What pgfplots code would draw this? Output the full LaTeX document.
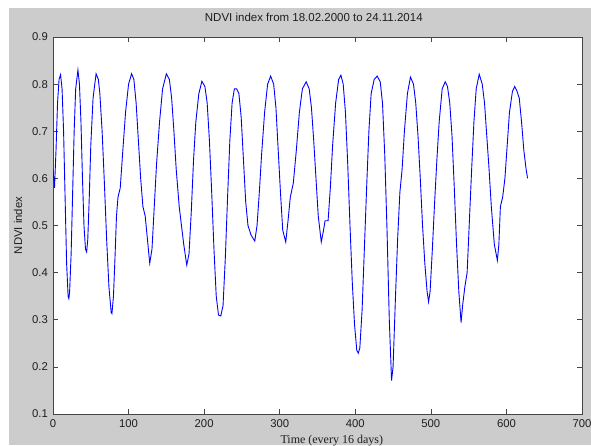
\documentclass[border=0pt]{standalone}
\usepackage{fontspec}
\setmainfont{Liberation Sans}
\newfontfamily\seriffont{Liberation Serif}
\usepackage{pgfplots}
\pgfplotsset{compat=1.18}
\definecolor{figgray}{RGB}{204,204,204}
\definecolor{axgray}{RGB}{70,70,70}
\definecolor{txtgray}{RGB}{30,30,30}
\definecolor{mblue}{RGB}{0,0,255}
\begin{document}
\begin{tikzpicture}
\clip (0,0) rectangle (591pt,445pt);
\fill[white] (0,0) rectangle (591pt,445pt);
\fill[figgray] (9pt,0) rectangle (591pt,437pt);
\begin{axis}[
  at={(53pt,31pt)}, anchor=south west,
  scale only axis, width=529pt, height=377pt,
  xmin=0, xmax=700, ymin=0.1, ymax=0.9,
  xtick={0,100,...,700},
  ytick={0.1,0.2,0.3,0.4,0.5,0.6,0.7,0.8,0.9},
  tick align=inside, major tick length=5pt,
  xtick pos=both, ytick pos=both,
  axis line style={axgray, line width=0.9pt},
  tick style={axgray, line width=0.7pt},
  axis background/.style={fill=white},
  /pgf/number format/assume math mode=true,
  tick label style={font=\fontsize{11.3}{13}\selectfont, text=txtgray},
  yticklabel style={/pgf/number format/fixed, /pgf/number format/precision=1, /pgf/number format/fixed zerofill, inner sep=0pt, anchor=east, xshift=-5pt},
  xticklabel style={inner sep=0pt, anchor=north, yshift=-5pt},
  title={NDVI index from 18.02.2000 to 24.11.2014},
  title style={at={(0.493,1)}, anchor=base, yshift=10pt, font=\fontsize{11.5}{13}\selectfont, text=txtgray, inner sep=0pt},
  xlabel={Time (every 16 days)},
  xlabel style={at={(0.527,0)}, anchor=base, yshift=-29pt, font=\seriffont\fontsize{12}{14}\selectfont, text=txtgray, inner sep=0pt},
  ylabel={NDVI index},
  ylabel style={at={(0,0.5)}, anchor=center, yshift=35pt, font=\fontsize{11.3}{13}\selectfont, text=txtgray, inner sep=0pt},
]
\addplot[mblue, line width=0.9pt] coordinates {
(0,0.62) (2,0.58) (4,0.66) (6,0.76) (8,0.81) (10,0.82) (12,0.79) (14,0.70) (16,0.56) (18,0.42) (20,0.35) (21,0.345) (22,0.36) (24,0.44) (26,0.57) (28,0.70) (30,0.79) (33,0.83) (35,0.80) (37,0.72) (39,0.60) (41,0.50) (43,0.45) (44.5,0.444) (46,0.47) (48,0.56) (50,0.67) (53,0.77) (57,0.822) (60,0.81) (62,0.78) (65,0.70) (68,0.59) (71,0.47) (74,0.37) (77,0.315) (78,0.313) (80,0.35) (82,0.43) (84,0.52) (86,0.56) (89,0.58) (92,0.65) (96,0.74) (100,0.80) (104,0.822) (107,0.81) (110,0.76) (113,0.68) (116,0.60) (119,0.54) (122,0.52) (125,0.47) (128,0.42) (131,0.45) (134,0.54) (137,0.63) (141,0.72) (145,0.79) (150,0.822) (154,0.81) (157,0.77) (160,0.70) (163,0.62) (167,0.54) (170,0.50) (173,0.46) (177,0.416) (180,0.44) (183,0.53) (186,0.64) (189,0.72) (193,0.78) (197,0.806) (201,0.795) (204,0.76) (207,0.68) (210,0.57) (213,0.45) (216,0.35) (219,0.31) (222,0.308) (225,0.33) (228,0.43) (231,0.56) (234,0.68) (237,0.76) (240,0.79) (243,0.79) (246,0.78) (249,0.73) (252,0.64) (255,0.55) (258,0.50) (262,0.48) (267,0.467) (270,0.50) (273,0.57) (276,0.65) (280,0.74) (284,0.80) (288,0.817) (292,0.80) (295,0.75) (298,0.66) (301,0.57) (304,0.49) (308,0.465) (311,0.51) (314,0.56) (318,0.59) (322,0.66) (326,0.74) (330,0.79) (335,0.805) (339,0.79) (342,0.75) (345,0.68) (348,0.60) (351,0.52) (355,0.465) (358,0.49) (360,0.51) (364,0.51) (367,0.58) (370,0.67) (374,0.76) (378,0.81) (381,0.819) (384,0.80) (387,0.74) (390,0.63) (393,0.50) (396,0.38) (399,0.29) (402,0.235) (404,0.229) (406,0.24) (409,0.32) (412,0.45) (415,0.58) (418,0.70) (421,0.78) (425,0.81) (429,0.817) (433,0.805) (436,0.76) (439,0.65) (442,0.49) (445,0.30) (448,0.171) (450,0.20) (453,0.34) (456,0.47) (459,0.57) (462,0.62) (465,0.70) (469,0.78) (473,0.815) (477,0.80) (480,0.76) (483,0.69) (486,0.60) (489,0.50) (492,0.42) (495,0.36) (497,0.338) (499,0.36) (502,0.45) (505,0.55) (508,0.64) (511,0.72) (515,0.79) (519,0.805) (522,0.795) (525,0.76) (528,0.69) (531,0.58) (534,0.46) (537,0.36) (540,0.294) (542,0.33) (545,0.37) (548,0.40) (551,0.51) (554,0.62) (557,0.72) (560,0.79) (564,0.821) (568,0.80) (571,0.76) (574,0.69) (577,0.62) (580,0.54) (584,0.46) (588,0.426) (590,0.46) (592,0.54) (595,0.56) (598,0.60) (601,0.67) (604,0.74) (608,0.785) (611,0.795) (614,0.785) (617,0.77) (620,0.72) (623,0.66) (626,0.62) (628,0.60)
};
\end{axis}
\end{tikzpicture}
\end{document}
